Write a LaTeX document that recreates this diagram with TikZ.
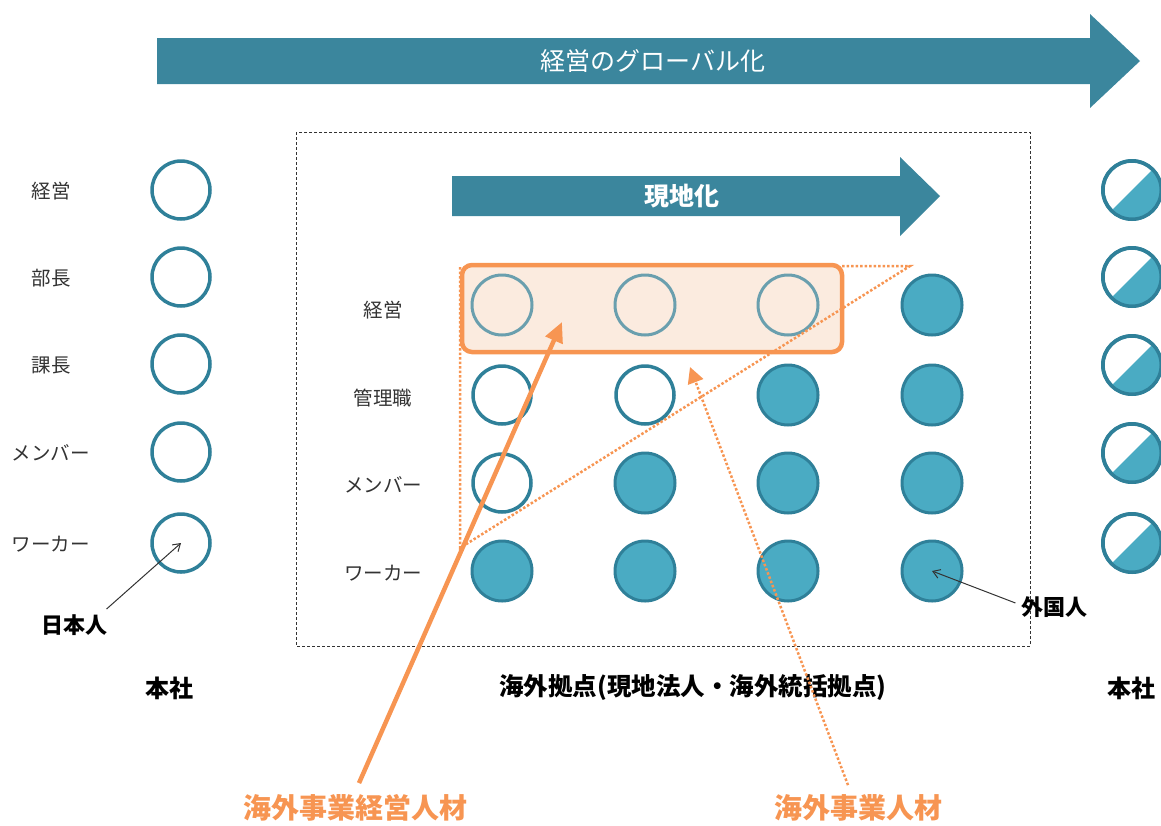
\documentclass[tikz,border=0pt]{standalone}
\usepackage{fontspec}
\setmainfont{Noto Sans CJK JP}
\usetikzlibrary{arrows.meta,calc}
\definecolor{arrowteal}{HTML}{3B869D}
\definecolor{ringc}{HTML}{2F8099}
\definecolor{fillc}{HTML}{4AABC3}
\definecolor{palering}{HTML}{6A9FAE}
\definecolor{orangec}{HTML}{F79552}
\definecolor{boxfill}{HTML}{FBEBDF}
\definecolor{textc}{HTML}{333333}
\tikzset{
  ring/.style={circle,draw=ringc,line width=3.5pt,fill=white,minimum size=58pt,inner sep=0pt},
  dot/.style={circle,draw=ringc,line width=3pt,fill=fillc,minimum size=60pt,inner sep=0pt},
  palering/.style={circle,draw=palering,line width=3pt,minimum size=60pt,inner sep=0pt},
  lbl/.style={text=textc,font=\fontsize{19.5}{22}\selectfont},
  boldlbl/.style={text=black,font=\fontsize{23}{26}\selectfont\bfseries},
  orangelbl/.style={text=orangec,font=\fontsize{28}{32}\selectfont\bfseries},
  bigarrow/.style={fill=arrowteal},
  arrowtext/.style={text=white,font=\fontsize{25}{28}\selectfont},
  pointer/.style={draw=textc,line width=1pt,-{Straight Barb[length=7pt,width=9pt]}},
}
\begin{document}
\begin{tikzpicture}[x=1pt,y=-1pt]
\useasboundingbox (0,0) rectangle (1161,825);
% top arrow
\fill[bigarrow] (157,38) -- (1090,38) -- (1090,14) -- (1140,61) -- (1090,108) -- (1090,84) -- (157,84) -- cycle;
\node[arrowtext] (title) at (653,61) {経営のグローバル化};
% dashed frame
\draw[dash pattern=on 3pt off 2pt,line width=0.8pt,draw=textc] (296,132) rectangle (1030,646);
% localisation arrow
\fill[bigarrow] (452,176) -- (900,176) -- (900,157) -- (940,196) -- (900,236) -- (900,216) -- (452,216) -- cycle;
\node[arrowtext,font=\fontsize{25}{28}\selectfont\bfseries] (loc) at (682,196) {現地化};
% orange box
\fill[boxfill,rounded corners=10pt] (462,265) rectangle (842,352);
% left column
\foreach \y/\t/\n in {190/経営/a,277/部長/b,364/課長/c,452/メンバー/d,543/ワーカー/e}{
  \node[lbl] (L\n) at (51,\y+1) {\t};
  \node[ring] (H\n) at (181,\y) {};
}
% right column (half filled)
\foreach \y/\n in {190/a,277/b,365/c,453/d,543/e}{
  \node[ring] (R\n) at (1132,\y) {};
  \begin{scope}
    \clip (1132,\y) circle[radius=28];
    \fill[fillc] (1132+40,\y-40) -- (1132-40,\y+40) -- (1132+60,\y+60) -- cycle;
  \end{scope}
  \draw[ringc,line width=3.5pt] (1132,\y) circle[radius=29.25];
}
% inner grid labels
\node[lbl] (g1) at (383,310) {経営};
\node[lbl] (g2) at (383,398) {管理職};
\node[lbl] (g3) at (383,485) {メンバー};
\node[lbl] (g4) at (383,573) {ワーカー};
% grid
\node[palering] (c11) at (502,305) {};
\node[palering] (c12) at (645,305) {};
\node[palering] (c13) at (788,305) {};
\node[dot] (c14) at (932,305) {};
\node[ring] (c21) at (502,395) {};
\node[ring] (c22) at (645,395) {};
\node[dot] (c23) at (788,395) {};
\node[dot] (c24) at (932,395) {};
\node[ring] (c31) at (502,483) {};
\node[dot] (c32) at (645,483) {};
\node[dot] (c33) at (788,483) {};
\node[dot] (c34) at (932,483) {};
\node[dot] (c41) at (502,571) {};
\node[dot] (c42) at (645,571) {};
\node[dot] (c43) at (788,571) {};
\node[dot] (c44) at (932,571) {};
% orange box outline
\draw[orangec,line width=4.5pt,rounded corners=10pt] (462,265) rectangle (842,352);
% dotted triangle
\coordinate (t1) at (460,266);
\coordinate (t2) at (910,266);
\coordinate (t3) at (460,548);
\draw[orangec,line width=2.5pt,dotted] (842,266) -- (t2) -- (t3) -- (t1);
% bottom labels
\node[boldlbl,font=\fontsize{22}{26}\selectfont\bfseries] (jp) at (74,625) {日本人};
\node[boldlbl,font=\fontsize{24}{26}\selectfont\bfseries] (hq1) at (169,688) {本社};
\node[boldlbl,font=\fontsize{24.5}{26}\selectfont\bfseries] (ov) at (693,688) {海外拠点(現地法人・海外統括拠点)};
\node[boldlbl,font=\fontsize{24}{26}\selectfont\bfseries] (hq2) at (1131,688) {本社};
\node[boldlbl,font=\fontsize{22}{26}\selectfont\bfseries] (fg) at (1054,607) {外国人};
\node[orangelbl] (m1) at (355,808) {海外事業経営人材};
\node[orangelbl] (m2) at (858,808) {海外事業人材};
% pointers
\draw[pointer] (jp.north east) ++(-4,-2) -- (He.center);
\draw[pointer] (fg.west) ++(-2,-4) -- (c44.center);
% orange arrows
\coordinate (a1) at (562,322);
\coordinate (a2) at (690,367);
\draw[orangec,line width=4.5pt,-{Triangle[length=20pt,width=18pt]}] (m1.north) ++(4,-8) -- (a1);
\draw[orangec,line width=2.5pt,dotted,-{Triangle[length=16pt,width=16pt]}] (m2.north) ++(-10,-6) -- (a2);
\end{tikzpicture}
\end{document}
